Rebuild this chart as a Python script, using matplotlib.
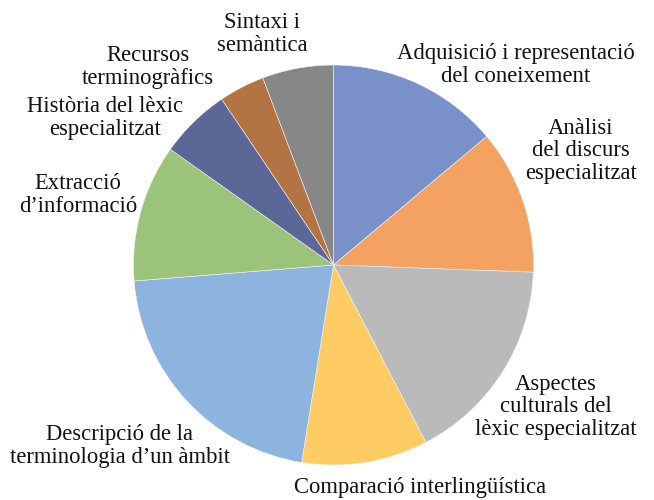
import matplotlib
matplotlib.use("Agg")
import matplotlib.pyplot as plt

categories = [
    "Adquisició i representació\ndel coneixement",
    "Anàlisi\ndel discurs\nespecialitzat",
    "Aspectes\nculturals del\nlèxic especialitzat",
    "Comparació interlingüística",
    "Descripció de la\nterminologia d’un àmbit",
    "Extracció\nd’informació",
    "Història del lèxic\nespecialitzat",
    "Recursos\nterminogràfics",
    "Sintaxi i\nsemàntica",
]
values = [13.9, 11.7, 16.8, 10.2, 21.2, 11.1, 5.75, 3.7, 5.75]

colors = ["#7A90C8", "#F3A262", "#BBBABA", "#FECC62", "#8DB3DF",
          "#9CC37A", "#5B6897", "#B47343", "#878787"]

# label centres in pixel coordinates (layout only)
label_px = [(516, 65), (581, 151), (556, 407), (420, 487), (120, 446),
            (78, 195), (105, 118), (148, 67), (262, 34)]

W, H = 654, 500
CX, CY, R = 333.5, 265, 200

fig = plt.figure(figsize=(W / 100, H / 100), dpi=100)
ax = fig.add_axes([0, 0, 1, 1])

ax.pie(values, colors=colors, startangle=90, counterclock=False,
       radius=1.0, wedgeprops=dict(linewidth=0.4, edgecolor="#f4f4f4"))

ax.set_xlim(-CX / R, (W - CX) / R)
ax.set_ylim((CY - H) / R, CY / R)
ax.set_aspect("equal")
ax.axis("off")

for lab, (px, py) in zip(categories, label_px):
    ax.text((px - CX) / R, (CY - py) / R, lab, ha="center", va="center",
            fontsize=16.3, family="Liberation Serif", color="#111111",
            linespacing=1.1, multialignment="center")

fig.savefig("out.png", dpi=100)
